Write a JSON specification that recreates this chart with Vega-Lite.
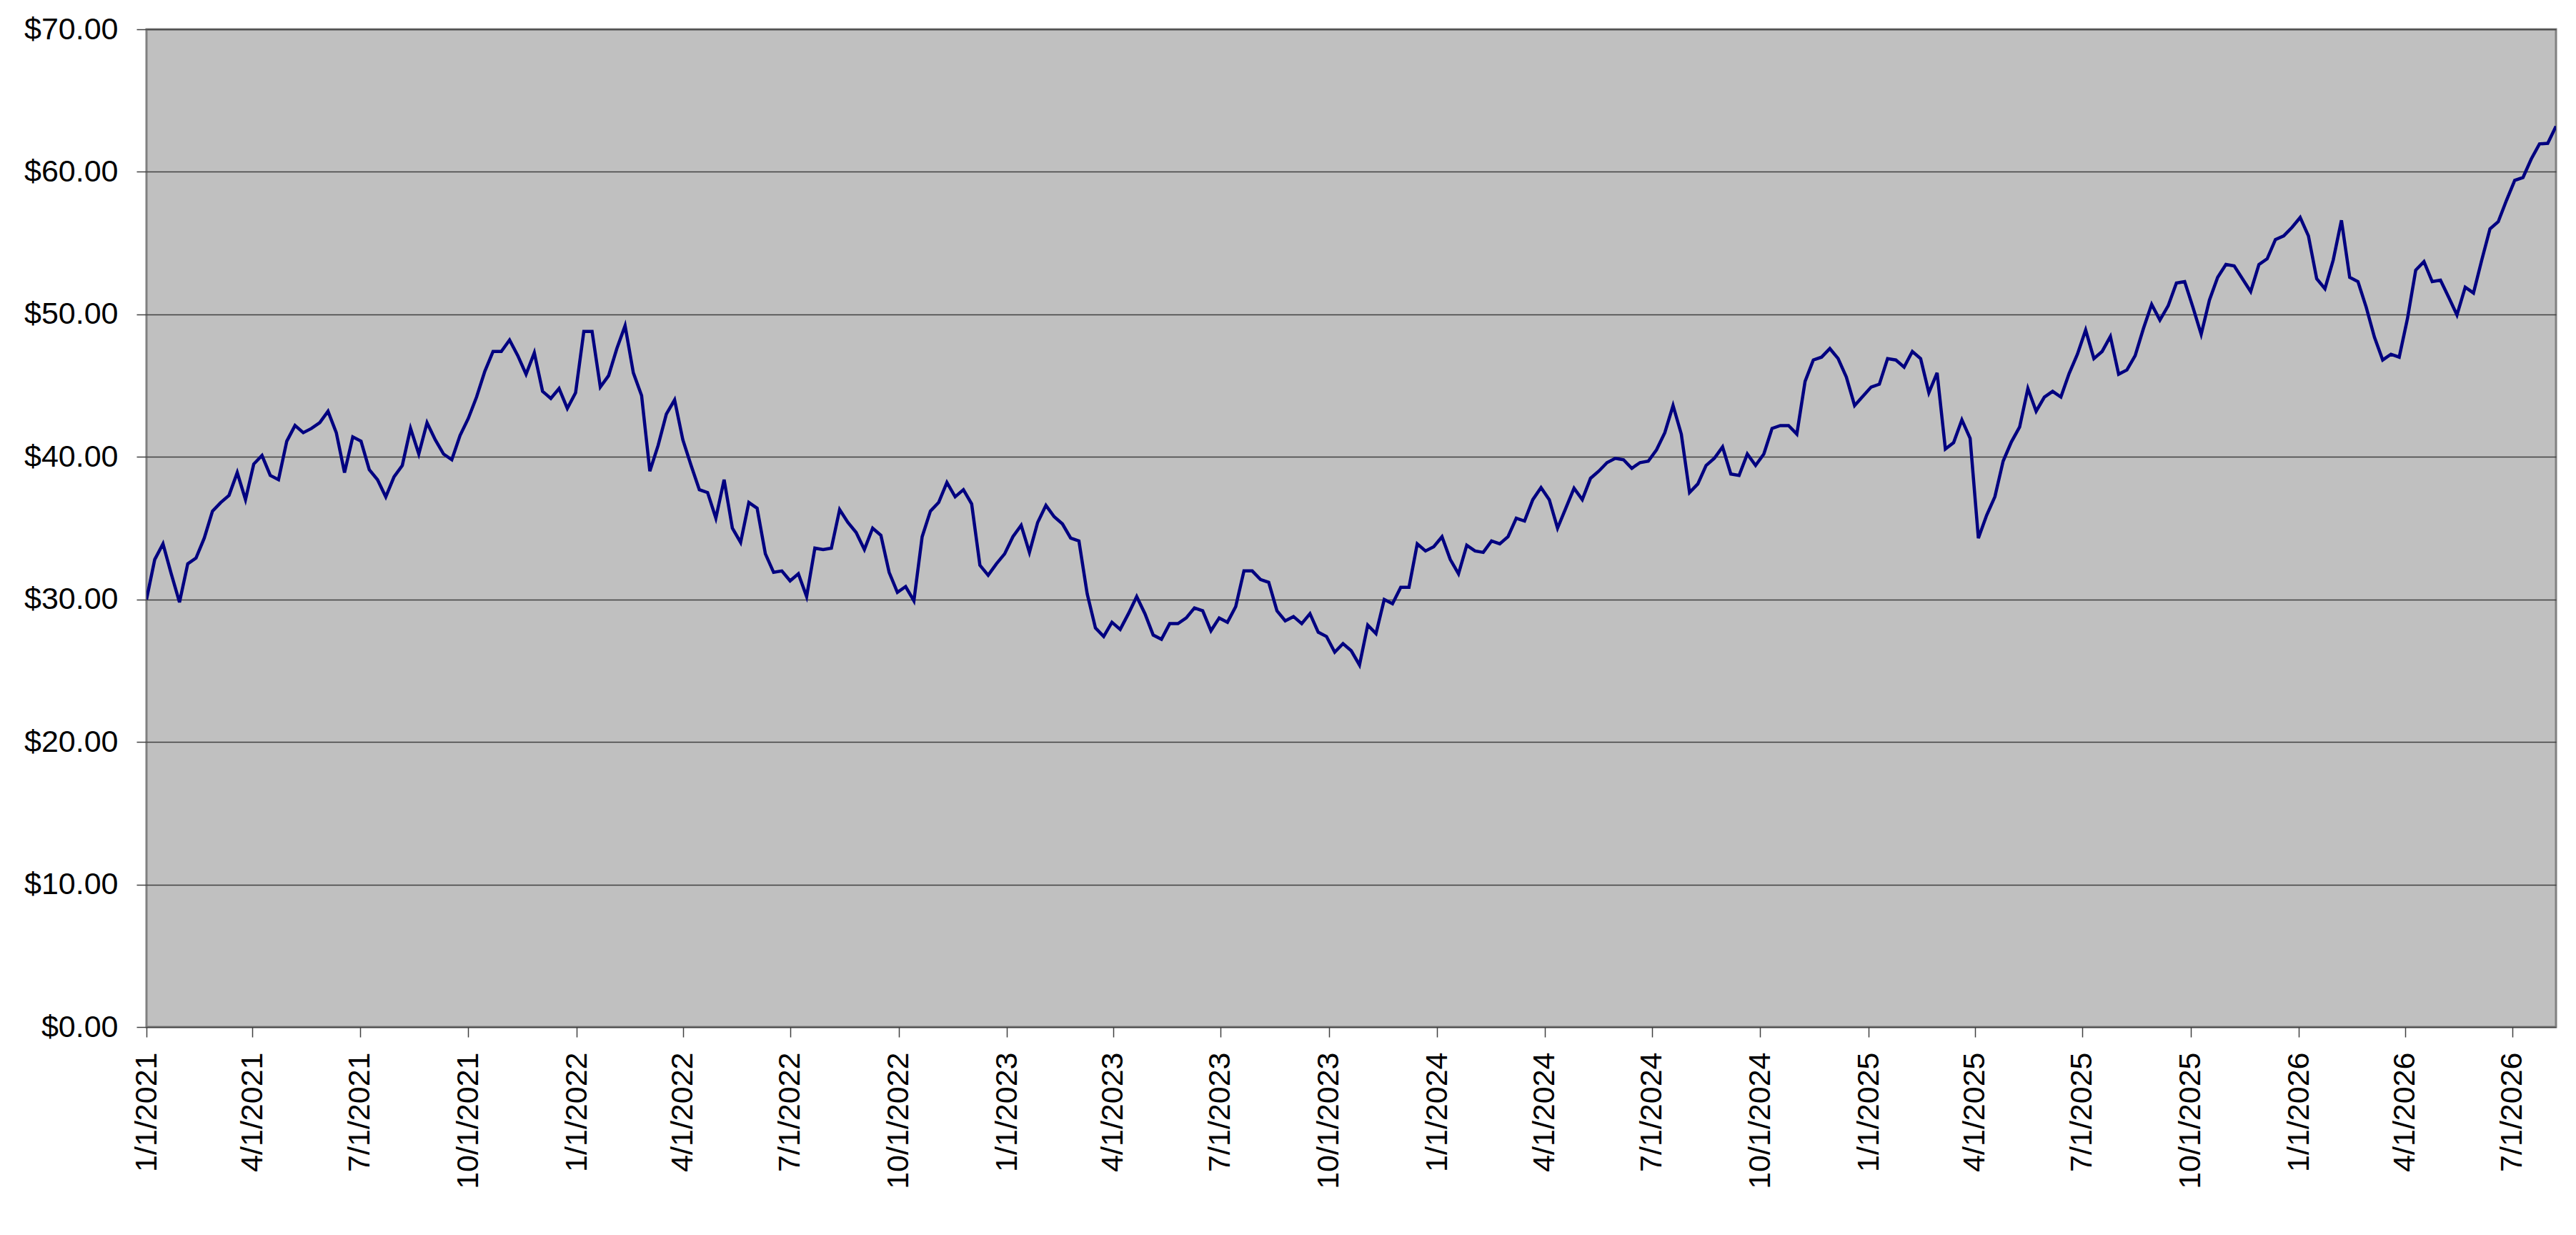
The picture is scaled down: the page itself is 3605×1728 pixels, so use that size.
{
  "$schema": "https://vega.github.io/schema/vega-lite/v6.json",
  "width": 3372,
  "height": 1396,
  "autosize": {"type": "none"},
  "padding": {"left": 205, "top": 41, "right": 28, "bottom": 291},
  "background": "#ffffff",
  "config": {
    "font": "Liberation Sans",
    "view": {"fill": "#C0C0C0", "stroke": "#808080", "strokeWidth": 3}
  },
  "data": {
    "values": [
      {"date": "2021-01-01", "price": 30.0},
      {"date": "2021-01-08", "price": 32.8},
      {"date": "2021-01-15", "price": 33.9},
      {"date": "2021-01-22", "price": 31.8},
      {"date": "2021-01-29", "price": 29.8},
      {"date": "2021-02-05", "price": 32.5},
      {"date": "2021-02-12", "price": 32.9},
      {"date": "2021-02-19", "price": 34.3},
      {"date": "2021-02-26", "price": 36.2},
      {"date": "2021-03-05", "price": 36.8},
      {"date": "2021-03-12", "price": 37.3},
      {"date": "2021-03-19", "price": 38.9},
      {"date": "2021-03-26", "price": 37.0},
      {"date": "2021-04-02", "price": 39.5},
      {"date": "2021-04-09", "price": 40.1},
      {"date": "2021-04-16", "price": 38.7},
      {"date": "2021-04-23", "price": 38.4},
      {"date": "2021-04-30", "price": 41.1},
      {"date": "2021-05-07", "price": 42.2},
      {"date": "2021-05-14", "price": 41.7},
      {"date": "2021-05-21", "price": 42.0},
      {"date": "2021-05-28", "price": 42.4},
      {"date": "2021-06-04", "price": 43.2},
      {"date": "2021-06-11", "price": 41.7},
      {"date": "2021-06-18", "price": 38.9},
      {"date": "2021-06-25", "price": 41.4},
      {"date": "2021-07-02", "price": 41.1},
      {"date": "2021-07-09", "price": 39.1},
      {"date": "2021-07-16", "price": 38.4},
      {"date": "2021-07-23", "price": 37.2},
      {"date": "2021-07-30", "price": 38.6},
      {"date": "2021-08-06", "price": 39.4},
      {"date": "2021-08-13", "price": 42.0},
      {"date": "2021-08-20", "price": 40.2},
      {"date": "2021-08-27", "price": 42.4},
      {"date": "2021-09-03", "price": 41.2},
      {"date": "2021-09-10", "price": 40.2},
      {"date": "2021-09-17", "price": 39.8},
      {"date": "2021-09-24", "price": 41.5},
      {"date": "2021-10-01", "price": 42.7},
      {"date": "2021-10-08", "price": 44.2},
      {"date": "2021-10-15", "price": 46.0},
      {"date": "2021-10-22", "price": 47.4},
      {"date": "2021-10-29", "price": 47.4},
      {"date": "2021-11-05", "price": 48.2},
      {"date": "2021-11-12", "price": 47.1},
      {"date": "2021-11-19", "price": 45.8},
      {"date": "2021-11-26", "price": 47.3},
      {"date": "2021-12-03", "price": 44.6},
      {"date": "2021-12-10", "price": 44.1},
      {"date": "2021-12-17", "price": 44.8},
      {"date": "2021-12-24", "price": 43.4},
      {"date": "2021-12-31", "price": 44.5},
      {"date": "2022-01-07", "price": 48.8},
      {"date": "2022-01-14", "price": 48.8},
      {"date": "2022-01-21", "price": 44.9},
      {"date": "2022-01-28", "price": 45.7},
      {"date": "2022-02-04", "price": 47.6},
      {"date": "2022-02-11", "price": 49.2},
      {"date": "2022-02-18", "price": 45.9},
      {"date": "2022-02-25", "price": 44.3},
      {"date": "2022-03-04", "price": 39.0},
      {"date": "2022-03-11", "price": 40.8},
      {"date": "2022-03-18", "price": 43.0},
      {"date": "2022-03-25", "price": 44.0},
      {"date": "2022-04-01", "price": 41.2},
      {"date": "2022-04-08", "price": 39.4},
      {"date": "2022-04-15", "price": 37.7},
      {"date": "2022-04-22", "price": 37.5},
      {"date": "2022-04-29", "price": 35.7},
      {"date": "2022-05-06", "price": 38.4},
      {"date": "2022-05-13", "price": 35.0},
      {"date": "2022-05-20", "price": 34.0},
      {"date": "2022-05-27", "price": 36.8},
      {"date": "2022-06-03", "price": 36.4},
      {"date": "2022-06-10", "price": 33.2},
      {"date": "2022-06-17", "price": 31.9},
      {"date": "2022-06-24", "price": 32.0},
      {"date": "2022-07-01", "price": 31.3},
      {"date": "2022-07-08", "price": 31.8},
      {"date": "2022-07-15", "price": 30.2},
      {"date": "2022-07-22", "price": 33.6},
      {"date": "2022-07-29", "price": 33.5},
      {"date": "2022-08-05", "price": 33.6},
      {"date": "2022-08-12", "price": 36.3},
      {"date": "2022-08-19", "price": 35.4},
      {"date": "2022-08-26", "price": 34.7},
      {"date": "2022-09-02", "price": 33.5},
      {"date": "2022-09-09", "price": 35.0},
      {"date": "2022-09-16", "price": 34.5},
      {"date": "2022-09-23", "price": 31.9},
      {"date": "2022-09-30", "price": 30.5},
      {"date": "2022-10-07", "price": 30.9},
      {"date": "2022-10-14", "price": 29.9},
      {"date": "2022-10-21", "price": 34.4},
      {"date": "2022-10-28", "price": 36.2},
      {"date": "2022-11-04", "price": 36.8},
      {"date": "2022-11-11", "price": 38.2},
      {"date": "2022-11-18", "price": 37.2},
      {"date": "2022-11-25", "price": 37.7},
      {"date": "2022-12-02", "price": 36.7},
      {"date": "2022-12-09", "price": 32.4},
      {"date": "2022-12-16", "price": 31.7},
      {"date": "2022-12-23", "price": 32.5},
      {"date": "2022-12-30", "price": 33.2},
      {"date": "2023-01-06", "price": 34.4},
      {"date": "2023-01-13", "price": 35.2},
      {"date": "2023-01-20", "price": 33.3},
      {"date": "2023-01-27", "price": 35.4},
      {"date": "2023-02-03", "price": 36.6},
      {"date": "2023-02-10", "price": 35.8},
      {"date": "2023-02-17", "price": 35.3},
      {"date": "2023-02-24", "price": 34.3},
      {"date": "2023-03-03", "price": 34.1},
      {"date": "2023-03-10", "price": 30.4},
      {"date": "2023-03-17", "price": 28.0},
      {"date": "2023-03-24", "price": 27.4},
      {"date": "2023-03-31", "price": 28.4},
      {"date": "2023-04-07", "price": 27.9},
      {"date": "2023-04-14", "price": 29.0},
      {"date": "2023-04-21", "price": 30.2},
      {"date": "2023-04-28", "price": 29.0},
      {"date": "2023-05-05", "price": 27.5},
      {"date": "2023-05-12", "price": 27.2},
      {"date": "2023-05-19", "price": 28.3},
      {"date": "2023-05-26", "price": 28.3},
      {"date": "2023-06-02", "price": 28.7},
      {"date": "2023-06-09", "price": 29.4},
      {"date": "2023-06-16", "price": 29.2},
      {"date": "2023-06-23", "price": 27.8},
      {"date": "2023-06-30", "price": 28.7},
      {"date": "2023-07-07", "price": 28.4},
      {"date": "2023-07-14", "price": 29.5},
      {"date": "2023-07-21", "price": 32.0},
      {"date": "2023-07-28", "price": 32.0},
      {"date": "2023-08-04", "price": 31.4},
      {"date": "2023-08-11", "price": 31.2},
      {"date": "2023-08-18", "price": 29.2},
      {"date": "2023-08-25", "price": 28.5},
      {"date": "2023-09-01", "price": 28.8},
      {"date": "2023-09-08", "price": 28.3},
      {"date": "2023-09-15", "price": 29.0},
      {"date": "2023-09-22", "price": 27.7},
      {"date": "2023-09-29", "price": 27.4},
      {"date": "2023-10-06", "price": 26.3},
      {"date": "2023-10-13", "price": 26.9},
      {"date": "2023-10-20", "price": 26.4},
      {"date": "2023-10-27", "price": 25.4},
      {"date": "2023-11-03", "price": 28.2},
      {"date": "2023-11-10", "price": 27.6},
      {"date": "2023-11-17", "price": 30.0},
      {"date": "2023-11-24", "price": 29.7},
      {"date": "2023-12-01", "price": 30.85},
      {"date": "2023-12-08", "price": 30.85},
      {"date": "2023-12-15", "price": 33.9},
      {"date": "2023-12-22", "price": 33.4},
      {"date": "2023-12-29", "price": 33.7},
      {"date": "2024-01-05", "price": 34.4},
      {"date": "2024-01-12", "price": 32.8},
      {"date": "2024-01-19", "price": 31.8},
      {"date": "2024-01-26", "price": 33.8},
      {"date": "2024-02-02", "price": 33.4},
      {"date": "2024-02-09", "price": 33.3},
      {"date": "2024-02-16", "price": 34.1},
      {"date": "2024-02-23", "price": 33.9},
      {"date": "2024-03-01", "price": 34.4},
      {"date": "2024-03-08", "price": 35.7},
      {"date": "2024-03-15", "price": 35.5},
      {"date": "2024-03-22", "price": 37.0},
      {"date": "2024-03-29", "price": 37.85},
      {"date": "2024-04-05", "price": 37.0},
      {"date": "2024-04-12", "price": 35.0},
      {"date": "2024-04-19", "price": 36.4},
      {"date": "2024-04-26", "price": 37.8},
      {"date": "2024-05-03", "price": 37.0},
      {"date": "2024-05-10", "price": 38.5},
      {"date": "2024-05-17", "price": 39.0},
      {"date": "2024-05-24", "price": 39.6},
      {"date": "2024-05-31", "price": 39.9},
      {"date": "2024-06-07", "price": 39.8},
      {"date": "2024-06-14", "price": 39.2},
      {"date": "2024-06-21", "price": 39.6},
      {"date": "2024-06-28", "price": 39.7},
      {"date": "2024-07-05", "price": 40.5},
      {"date": "2024-07-12", "price": 41.7},
      {"date": "2024-07-19", "price": 43.6},
      {"date": "2024-07-26", "price": 41.6},
      {"date": "2024-08-02", "price": 37.5},
      {"date": "2024-08-09", "price": 38.1},
      {"date": "2024-08-16", "price": 39.4},
      {"date": "2024-08-23", "price": 39.9},
      {"date": "2024-08-30", "price": 40.7},
      {"date": "2024-09-06", "price": 38.8},
      {"date": "2024-09-13", "price": 38.7},
      {"date": "2024-09-20", "price": 40.2},
      {"date": "2024-09-27", "price": 39.4},
      {"date": "2024-10-04", "price": 40.2},
      {"date": "2024-10-11", "price": 42.0},
      {"date": "2024-10-18", "price": 42.2},
      {"date": "2024-10-25", "price": 42.2},
      {"date": "2024-11-01", "price": 41.6},
      {"date": "2024-11-08", "price": 45.3},
      {"date": "2024-11-15", "price": 46.8},
      {"date": "2024-11-22", "price": 47.0},
      {"date": "2024-11-29", "price": 47.6},
      {"date": "2024-12-06", "price": 46.9},
      {"date": "2024-12-13", "price": 45.6},
      {"date": "2024-12-20", "price": 43.6},
      {"date": "2024-12-27", "price": 44.25},
      {"date": "2025-01-03", "price": 44.9},
      {"date": "2025-01-10", "price": 45.1},
      {"date": "2025-01-17", "price": 46.9},
      {"date": "2025-01-24", "price": 46.8},
      {"date": "2025-01-31", "price": 46.3},
      {"date": "2025-02-07", "price": 47.4},
      {"date": "2025-02-14", "price": 46.9},
      {"date": "2025-02-21", "price": 44.5},
      {"date": "2025-02-28", "price": 45.9},
      {"date": "2025-03-07", "price": 40.55},
      {"date": "2025-03-14", "price": 41.0},
      {"date": "2025-03-21", "price": 42.6},
      {"date": "2025-03-28", "price": 41.3},
      {"date": "2025-04-04", "price": 34.3},
      {"date": "2025-04-11", "price": 35.9},
      {"date": "2025-04-18", "price": 37.2},
      {"date": "2025-04-25", "price": 39.7},
      {"date": "2025-05-02", "price": 41.05},
      {"date": "2025-05-09", "price": 42.1},
      {"date": "2025-05-16", "price": 44.8},
      {"date": "2025-05-23", "price": 43.2},
      {"date": "2025-05-30", "price": 44.2},
      {"date": "2025-06-06", "price": 44.6},
      {"date": "2025-06-13", "price": 44.2},
      {"date": "2025-06-20", "price": 45.85},
      {"date": "2025-06-27", "price": 47.2},
      {"date": "2025-07-04", "price": 48.9},
      {"date": "2025-07-11", "price": 46.9},
      {"date": "2025-07-18", "price": 47.4},
      {"date": "2025-07-25", "price": 48.45},
      {"date": "2025-08-01", "price": 45.8},
      {"date": "2025-08-08", "price": 46.1},
      {"date": "2025-08-15", "price": 47.1},
      {"date": "2025-08-22", "price": 49.0},
      {"date": "2025-08-29", "price": 50.7},
      {"date": "2025-09-05", "price": 49.6},
      {"date": "2025-09-12", "price": 50.6},
      {"date": "2025-09-19", "price": 52.2},
      {"date": "2025-09-26", "price": 52.3},
      {"date": "2025-10-03", "price": 50.5},
      {"date": "2025-10-10", "price": 48.6},
      {"date": "2025-10-17", "price": 51.0},
      {"date": "2025-10-24", "price": 52.6},
      {"date": "2025-10-31", "price": 53.5},
      {"date": "2025-11-07", "price": 53.4},
      {"date": "2025-11-14", "price": 52.5},
      {"date": "2025-11-21", "price": 51.6},
      {"date": "2025-11-28", "price": 53.5},
      {"date": "2025-12-05", "price": 53.9},
      {"date": "2025-12-12", "price": 55.25},
      {"date": "2025-12-19", "price": 55.5},
      {"date": "2025-12-26", "price": 56.1},
      {"date": "2026-01-02", "price": 56.8},
      {"date": "2026-01-09", "price": 55.5},
      {"date": "2026-01-16", "price": 52.5},
      {"date": "2026-01-23", "price": 51.8},
      {"date": "2026-01-30", "price": 53.8},
      {"date": "2026-02-06", "price": 56.6},
      {"date": "2026-02-13", "price": 52.6},
      {"date": "2026-02-20", "price": 52.3},
      {"date": "2026-02-27", "price": 50.5},
      {"date": "2026-03-06", "price": 48.4},
      {"date": "2026-03-13", "price": 46.8},
      {"date": "2026-03-20", "price": 47.2},
      {"date": "2026-03-27", "price": 47.0},
      {"date": "2026-04-03", "price": 49.7},
      {"date": "2026-04-10", "price": 53.1},
      {"date": "2026-04-17", "price": 53.7},
      {"date": "2026-04-24", "price": 52.3},
      {"date": "2026-05-01", "price": 52.4},
      {"date": "2026-05-08", "price": 51.2},
      {"date": "2026-05-15", "price": 49.96},
      {"date": "2026-05-22", "price": 51.9},
      {"date": "2026-05-29", "price": 51.5},
      {"date": "2026-06-05", "price": 53.8},
      {"date": "2026-06-12", "price": 56.0},
      {"date": "2026-06-19", "price": 56.5},
      {"date": "2026-06-26", "price": 58.0},
      {"date": "2026-07-03", "price": 59.4},
      {"date": "2026-07-10", "price": 59.6},
      {"date": "2026-07-17", "price": 60.9},
      {"date": "2026-07-24", "price": 61.96},
      {"date": "2026-07-31", "price": 62.0},
      {"date": "2026-08-07", "price": 63.2}
    ]
  },
  "mark": {"type": "line", "color": "#000080", "strokeWidth": 4.5, "clip": true},
  "encoding": {
    "x": {
      "field": "date",
      "type": "temporal",
      "scale": {
        "type": "utc",
        "domain": [
          {"year": 2021, "month": 1, "date": 1, "utc": true},
          {"year": 2026, "month": 8, "date": 7, "utc": true}
        ]
      },
      "axis": {
        "title": null,
        "values": [
          {"year": 2021, "month": 1, "date": 1, "utc": true},
          {"year": 2021, "month": 4, "date": 1, "utc": true},
          {"year": 2021, "month": 7, "date": 1, "utc": true},
          {"year": 2021, "month": 10, "date": 1, "utc": true},
          {"year": 2022, "month": 1, "date": 1, "utc": true},
          {"year": 2022, "month": 4, "date": 1, "utc": true},
          {"year": 2022, "month": 7, "date": 1, "utc": true},
          {"year": 2022, "month": 10, "date": 1, "utc": true},
          {"year": 2023, "month": 1, "date": 1, "utc": true},
          {"year": 2023, "month": 4, "date": 1, "utc": true},
          {"year": 2023, "month": 7, "date": 1, "utc": true},
          {"year": 2023, "month": 10, "date": 1, "utc": true},
          {"year": 2024, "month": 1, "date": 1, "utc": true},
          {"year": 2024, "month": 4, "date": 1, "utc": true},
          {"year": 2024, "month": 7, "date": 1, "utc": true},
          {"year": 2024, "month": 10, "date": 1, "utc": true},
          {"year": 2025, "month": 1, "date": 1, "utc": true},
          {"year": 2025, "month": 4, "date": 1, "utc": true},
          {"year": 2025, "month": 7, "date": 1, "utc": true},
          {"year": 2025, "month": 10, "date": 1, "utc": true},
          {"year": 2026, "month": 1, "date": 1, "utc": true},
          {"year": 2026, "month": 4, "date": 1, "utc": true},
          {"year": 2026, "month": 7, "date": 1, "utc": true}
        ],
        "format": "%-m/%-d/%Y",
        "labelAngle": -90,
        "labelAlign": "right",
        "labelBaseline": "middle",
        "labelFont": "Liberation Sans",
        "labelFontSize": 43,
        "labelColor": "#000000",
        "labelPadding": 21,
        "labelLimit": 1000,
        "labelOverlap": false,
        "labelFlush": false,
        "labelBound": false,
        "tickSize": 14,
        "tickColor": "#404040",
        "tickWidth": 1.5,
        "domain": false,
        "grid": false
      }
    },
    "y": {
      "field": "price",
      "type": "quantitative",
      "scale": {"domain": [0, 70], "nice": false, "zero": true},
      "axis": {
        "title": null,
        "values": [0, 10, 20, 30, 40, 50, 60, 70],
        "format": "$.2f",
        "labelFont": "Liberation Sans",
        "labelFontSize": 43,
        "labelColor": "#000000",
        "labelPadding": 26,
        "labelLimit": 1000,
        "labelFlush": false,
        "labelBound": false,
        "labelOverlap": false,
        "tickSize": 14,
        "tickColor": "#404040",
        "tickWidth": 1.5,
        "domain": false,
        "grid": true,
        "gridColor": "#404040",
        "gridWidth": 1.5
      }
    }
  }
}
